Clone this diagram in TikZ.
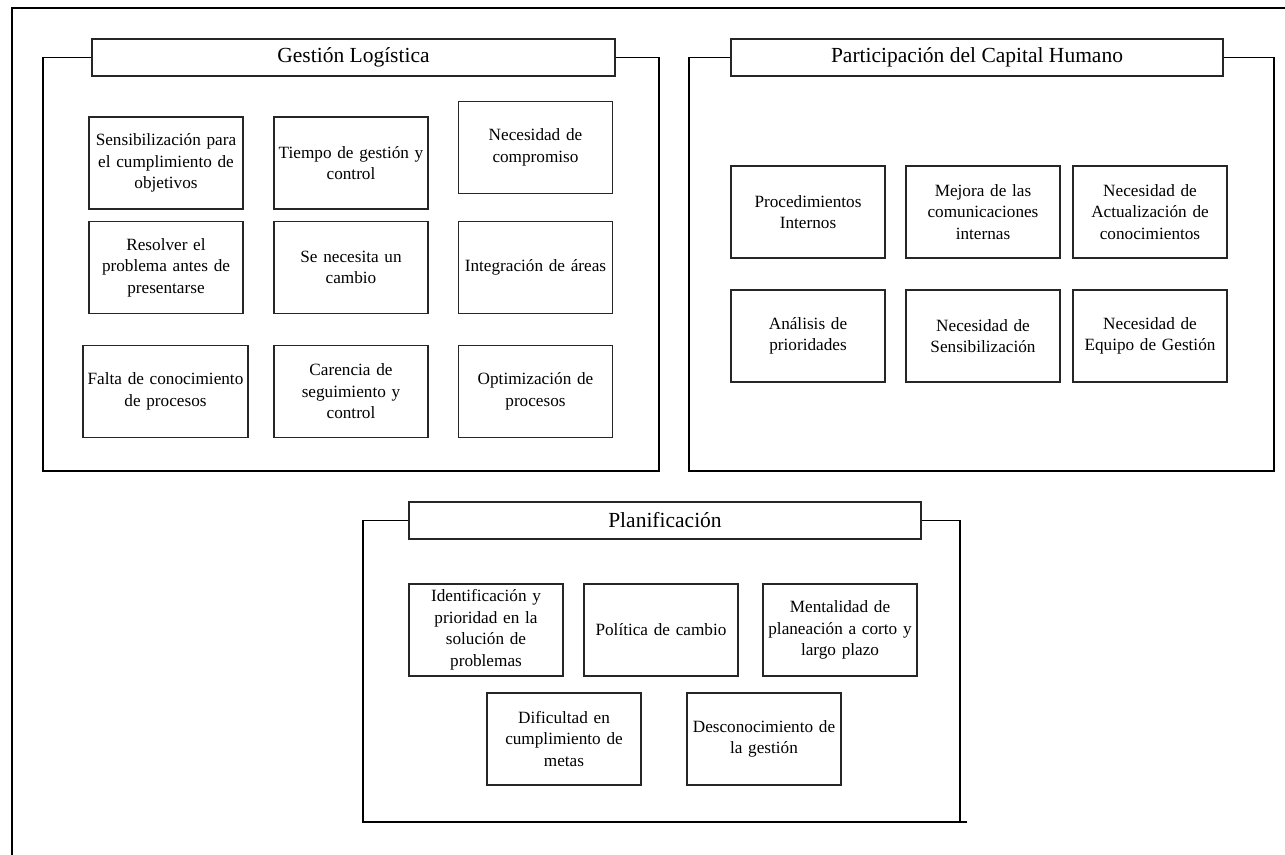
\documentclass[tikz,border=0pt]{standalone}
\usepackage{fontspec}
\setmainfont{Liberation Serif}
\begin{document}
\begin{tikzpicture}[x=1pt,y=-1pt,
  item/.style={draw=black!85,line width=1.2pt,minimum width=154pt,minimum height=92pt,
    inner xsep=-4pt,inner ysep=2pt,align=center,text width=162pt,
    font=\fontsize{17.2}{21.5}\selectfont},
  head/.style={draw=black!85,line width=1.2pt,minimum height=37pt,inner sep=0pt,
    font=\fontsize{21.5}{24}\selectfont},
  frame/.style={draw=black,line width=1.2pt},
  outer/.style={draw=black,line width=2.6pt}]
\useasboundingbox (0,0) rectangle (1285,854);

% page frame (runs off the right and bottom edges)
\coordinate (pTR) at (1300,8);
\coordinate (pTL) at (12,8);
\coordinate (pBL) at (12,870);
\draw[outer] (pTR) -- (pTL) -- (pBL);

% ---------- Gestión Logística ----------
\node[head,minimum width=523pt] (h1) at (353.5,57.5) {Gestión Logística};
\coordinate (g1a) at (659,57.5);
\coordinate (g1b) at (659,471);
\coordinate (g1c) at (43,471);
\coordinate (g1d) at (43,57.5);
\draw[frame] (h1.east) -- (g1a) -- (g1b) -- (g1c) -- (g1d) -- (h1.west);

\node[item] (a1) at (166,163) {Sensibilización para\\el cumplimiento de\\objetivos};
\node[item] (a2) at (351,163) {Tiempo de gestión y\\control};
\node[item] (a3) at (535.5,147.5) {Necesidad de\\compromiso};
\node[item] (a4) at (166,267.5) {Resolver el\\problema antes de\\presentarse};
\node[item] (a5) at (351,267.5) {Se necesita un\\cambio};
\node[item] (a6) at (535.5,267.5) {Integración de áreas};
\node[item,minimum width=165pt] (a7) at (165.5,391.5) {Falta de conocimiento\\de procesos};
\node[item] (a8) at (351,391.5) {Carencia de\\seguimiento y\\control};
\node[item] (a9) at (535.5,391.5) {Optimización de\\procesos};

% ---------- Participación del Capital Humano ----------
\node[head,minimum width=492pt] (h2) at (977,57.5) {Participación del Capital Humano};
\coordinate (g2a) at (1274,57.5);
\coordinate (g2b) at (1274,471);
\coordinate (g2c) at (689,471);
\coordinate (g2d) at (689,57.5);
\draw[frame] (h2.east) -- (g2a) -- (g2b) -- (g2c) -- (g2d) -- (h2.west);

\node[item] (b1) at (808,212) {Procedimientos\\Internos};
\node[item] (b2) at (983,212) {Mejora de las\\comunicaciones\\internas};
\node[item] (b3) at (1150,212) {Necesidad de\\Actualización de\\conocimientos};
\node[item] (b4) at (808,336) {Análisis de\\prioridades};
\node[item] (b5) at (983,336) {Necesidad de\\Sensibilización};
\node[item] (b6) at (1150,336) {Necesidad de\\Equipo de Gestión};

% ---------- Planificación ----------
\node[head,minimum width=512pt] (h3) at (665,520.5) {Planificación};
\coordinate (g3a) at (960,520.5);
\coordinate (g3b) at (960,822);
\coordinate (g3e) at (967,822);
\coordinate (g3c) at (363,822);
\coordinate (g3d) at (363,520.5);
\draw[frame] (h3.east) -- (g3a) -- (g3b);
\draw[frame] (g3e) -- (g3c) -- (g3d) -- (h3.west);

\node[item] (c1) at (486,630) {Identificación y\\prioridad en la\\solución de\\problemas};
\node[item] (c2) at (661,630) {Política de cambio};
\node[item] (c3) at (840,630) {Mentalidad de\\planeación a corto y\\largo plazo};
\node[item] (c4) at (564,739) {Dificultad en\\cumplimiento de\\metas};
\node[item] (c5) at (764,739) {Desconocimiento de\\la gestión};
\end{tikzpicture}
\end{document}
